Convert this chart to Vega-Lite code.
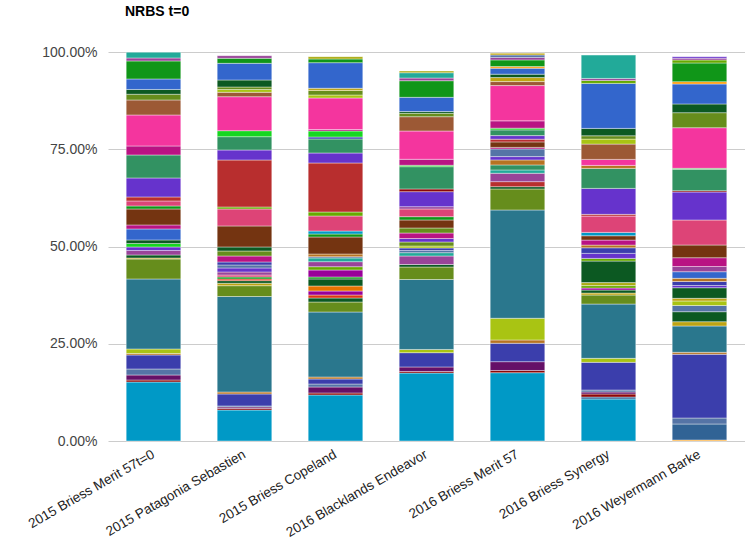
{
  "$schema": "https://vega.github.io/schema/vega-lite/v6.json",
  "width": 637,
  "height": 389,
  "autosize": {"type": "none"},
  "padding": {"left": 108, "top": 52, "right": 0, "bottom": 116},
  "background": "white",
  "title": {"text": "NRBS t=0", "anchor": "start", "frame": "group", "dx": 17, "offset": 26, "font": "Liberation Sans", "fontSize": 14, "fontWeight": "bold", "color": "#000000"},
  "config": {"view": {"stroke": null}},
  "data": {"values": [
    {"sample":"2015 Briess Merit 57t=0","series":5,"share":15.17},{"sample":"2015 Briess Merit 57t=0","series":15,"share":0.51},{"sample":"2015 Briess Merit 57t=0","series":16,"share":1.29},{"sample":"2015 Briess Merit 57t=0","series":18,"share":1.54},{"sample":"2015 Briess Merit 57t=0","series":19,"share":3.60},{"sample":"2015 Briess Merit 57t=0","series":20,"share":0.39},{"sample":"2015 Briess Merit 57t=0","series":25,"share":1.16},{"sample":"2015 Briess Merit 57t=0","series":26,"share":17.99},{"sample":"2015 Briess Merit 57t=0","series":27,"share":5.14},{"sample":"2015 Briess Merit 57t=0","series":28,"share":0.26},{"sample":"2015 Briess Merit 57t=0","series":29,"share":0.77},{"sample":"2015 Briess Merit 57t=0","series":41,"share":1.16},{"sample":"2015 Briess Merit 57t=0","series":44,"share":0.90},{"sample":"2015 Briess Merit 57t=0","series":52,"share":0.90},{"sample":"2015 Briess Merit 57t=0","series":60,"share":0.90},{"sample":"2015 Briess Merit 57t=0","series":62,"share":2.83},{"sample":"2015 Briess Merit 57t=0","series":84,"share":1.03},{"sample":"2015 Briess Merit 57t=0","series":92,"share":4.11},{"sample":"2015 Briess Merit 57t=0","series":96,"share":0.77},{"sample":"2015 Briess Merit 57t=0","series":99,"share":1.29},{"sample":"2015 Briess Merit 57t=0","series":101,"share":1.03},{"sample":"2015 Briess Merit 57t=0","series":106,"share":4.88},{"sample":"2015 Briess Merit 57t=0","series":110,"share":5.91},{"sample":"2015 Briess Merit 57t=0","series":115,"share":2.31},{"sample":"2015 Briess Merit 57t=0","series":116,"share":7.97},{"sample":"2015 Briess Merit 57t=0","series":117,"share":3.86},{"sample":"2015 Briess Merit 57t=0","series":120,"share":1.47},{"sample":"2015 Briess Merit 57t=0","series":122,"share":1.23},{"sample":"2015 Briess Merit 57t=0","series":124,"share":2.70},{"sample":"2015 Briess Merit 57t=0","series":127,"share":4.63},{"sample":"2015 Briess Merit 57t=0","series":134,"share":0.77},{"sample":"2015 Briess Merit 57t=0","series":135,"share":1.47},

    {"sample":"2015 Patagonia Sebastien","series":5,"share":7.97},{"sample":"2015 Patagonia Sebastien","series":15,"share":0.39},{"sample":"2015 Patagonia Sebastien","series":16,"share":0.39},{"sample":"2015 Patagonia Sebastien","series":18,"share":0.26},{"sample":"2015 Patagonia Sebastien","series":19,"share":3.08},{"sample":"2015 Patagonia Sebastien","series":20,"share":0.51},{"sample":"2015 Patagonia Sebastien","series":26,"share":24.55},{"sample":"2015 Patagonia Sebastien","series":27,"share":2.78},{"sample":"2015 Patagonia Sebastien","series":28,"share":0.62},{"sample":"2015 Patagonia Sebastien","series":29,"share":0.67},{"sample":"2015 Patagonia Sebastien","series":32,"share":0.44},{"sample":"2015 Patagonia Sebastien","series":34,"share":0.51},{"sample":"2015 Patagonia Sebastien","series":37,"share":0.51},{"sample":"2015 Patagonia Sebastien","series":41,"share":0.77},{"sample":"2015 Patagonia Sebastien","series":44,"share":1.03},{"sample":"2015 Patagonia Sebastien","series":49,"share":0.77},{"sample":"2015 Patagonia Sebastien","series":50,"share":0.77},{"sample":"2015 Patagonia Sebastien","series":53,"share":1.54},{"sample":"2015 Patagonia Sebastien","series":58,"share":1.29},{"sample":"2015 Patagonia Sebastien","series":60,"share":1.03},{"sample":"2015 Patagonia Sebastien","series":92,"share":5.40},{"sample":"2015 Patagonia Sebastien","series":99,"share":4.37},{"sample":"2015 Patagonia Sebastien","series":100,"share":0.51},{"sample":"2015 Patagonia Sebastien","series":101,"share":12.08},{"sample":"2015 Patagonia Sebastien","series":106,"share":2.57},{"sample":"2015 Patagonia Sebastien","series":110,"share":3.42},{"sample":"2015 Patagonia Sebastien","series":114,"share":1.54},{"sample":"2015 Patagonia Sebastien","series":116,"share":8.74},{"sample":"2015 Patagonia Sebastien","series":117,"share":1.13},{"sample":"2015 Patagonia Sebastien","series":118,"share":0.72},{"sample":"2015 Patagonia Sebastien","series":120,"share":0.64},{"sample":"2015 Patagonia Sebastien","series":122,"share":1.80},{"sample":"2015 Patagonia Sebastien","series":124,"share":4.29},{"sample":"2015 Patagonia Sebastien","series":127,"share":1.29},{"sample":"2015 Patagonia Sebastien","series":134,"share":0.67},

    {"sample":"2015 Briess Copeland","series":5,"share":11.83},{"sample":"2015 Briess Copeland","series":15,"share":0.51},{"sample":"2015 Briess Copeland","series":16,"share":1.54},{"sample":"2015 Briess Copeland","series":18,"share":0.77},{"sample":"2015 Briess Copeland","series":19,"share":1.29},{"sample":"2015 Briess Copeland","series":20,"share":0.51},{"sample":"2015 Briess Copeland","series":26,"share":16.71},{"sample":"2015 Briess Copeland","series":27,"share":2.57},{"sample":"2015 Briess Copeland","series":29,"share":1.03},{"sample":"2015 Briess Copeland","series":32,"share":0.77},{"sample":"2015 Briess Copeland","series":35,"share":1.03},{"sample":"2015 Briess Copeland","series":45,"share":1.29},{"sample":"2015 Briess Copeland","series":60,"share":1.80},{"sample":"2015 Briess Copeland","series":65,"share":0.51},{"sample":"2015 Briess Copeland","series":66,"share":1.80},{"sample":"2015 Briess Copeland","series":69,"share":0.85},{"sample":"2015 Briess Copeland","series":72,"share":1.29},{"sample":"2015 Briess Copeland","series":73,"share":0.95},{"sample":"2015 Briess Copeland","series":80,"share":0.33},{"sample":"2015 Briess Copeland","series":82,"share":0.69},{"sample":"2015 Briess Copeland","series":92,"share":4.37},{"sample":"2015 Briess Copeland","series":96,"share":0.77},{"sample":"2015 Briess Copeland","series":98,"share":0.77},{"sample":"2015 Briess Copeland","series":99,"share":3.86},{"sample":"2015 Briess Copeland","series":100,"share":1.03},{"sample":"2015 Briess Copeland","series":101,"share":12.60},{"sample":"2015 Briess Copeland","series":106,"share":2.57},{"sample":"2015 Briess Copeland","series":110,"share":3.60},{"sample":"2015 Briess Copeland","series":112,"share":0.51},{"sample":"2015 Briess Copeland","series":114,"share":1.54},{"sample":"2015 Briess Copeland","series":115,"share":0.39},{"sample":"2015 Briess Copeland","series":116,"share":8.10},{"sample":"2015 Briess Copeland","series":118,"share":0.77},{"sample":"2015 Briess Copeland","series":120,"share":1.16},{"sample":"2015 Briess Copeland","series":121,"share":0.57},{"sample":"2015 Briess Copeland","series":124,"share":6.58},{"sample":"2015 Briess Copeland","series":127,"share":0.95},{"sample":"2015 Briess Copeland","series":136,"share":0.59},

    {"sample":"2016 Blacklands Endeavor","series":5,"share":17.48},{"sample":"2016 Blacklands Endeavor","series":15,"share":0.39},{"sample":"2016 Blacklands Endeavor","series":16,"share":1.16},{"sample":"2016 Blacklands Endeavor","series":19,"share":3.68},{"sample":"2016 Blacklands Endeavor","series":25,"share":0.82},{"sample":"2016 Blacklands Endeavor","series":26,"share":17.99},{"sample":"2016 Blacklands Endeavor","series":27,"share":3.21},{"sample":"2016 Blacklands Endeavor","series":29,"share":0.64},{"sample":"2016 Blacklands Endeavor","series":41,"share":2.19},{"sample":"2016 Blacklands Endeavor","series":42,"share":0.85},{"sample":"2016 Blacklands Endeavor","series":49,"share":0.57},{"sample":"2016 Blacklands Endeavor","series":50,"share":0.64},{"sample":"2016 Blacklands Endeavor","series":56,"share":0.51},{"sample":"2016 Blacklands Endeavor","series":58,"share":1.03},{"sample":"2016 Blacklands Endeavor","series":75,"share":0.90},{"sample":"2016 Blacklands Endeavor","series":84,"share":1.41},{"sample":"2016 Blacklands Endeavor","series":89,"share":1.29},{"sample":"2016 Blacklands Endeavor","series":92,"share":2.06},{"sample":"2016 Blacklands Endeavor","series":96,"share":0.85},{"sample":"2016 Blacklands Endeavor","series":99,"share":1.98},{"sample":"2016 Blacklands Endeavor","series":103,"share":0.59},{"sample":"2016 Blacklands Endeavor","series":106,"share":3.86},{"sample":"2016 Blacklands Endeavor","series":108,"share":0.69},{"sample":"2016 Blacklands Endeavor","series":110,"share":5.73},{"sample":"2016 Blacklands Endeavor","series":114,"share":0.36},{"sample":"2016 Blacklands Endeavor","series":115,"share":1.54},{"sample":"2016 Blacklands Endeavor","series":116,"share":7.27},{"sample":"2016 Blacklands Endeavor","series":117,"share":3.68},{"sample":"2016 Blacklands Endeavor","series":120,"share":0.87},{"sample":"2016 Blacklands Endeavor","series":122,"share":0.46},{"sample":"2016 Blacklands Endeavor","series":124,"share":3.65},{"sample":"2016 Blacklands Endeavor","series":127,"share":4.27},{"sample":"2016 Blacklands Endeavor","series":134,"share":0.69},{"sample":"2016 Blacklands Endeavor","series":135,"share":1.36},{"sample":"2016 Blacklands Endeavor","series":136,"share":0.44},

    {"sample":"2016 Briess Merit 57","series":5,"share":17.56},{"sample":"2016 Briess Merit 57","series":15,"share":0.57},{"sample":"2016 Briess Merit 57","series":16,"share":2.26},{"sample":"2016 Briess Merit 57","series":19,"share":4.73},{"sample":"2016 Briess Merit 57","series":20,"share":0.85},{"sample":"2016 Briess Merit 57","series":25,"share":5.58},{"sample":"2016 Briess Merit 57","series":26,"share":27.84},{"sample":"2016 Briess Merit 57","series":27,"share":5.40},{"sample":"2016 Briess Merit 57","series":29,"share":0.59},{"sample":"2016 Briess Merit 57","series":39,"share":1.29},{"sample":"2016 Briess Merit 57","series":41,"share":2.16},{"sample":"2016 Briess Merit 57","series":42,"share":0.85},{"sample":"2016 Briess Merit 57","series":48,"share":1.29},{"sample":"2016 Briess Merit 57","series":51,"share":1.29},{"sample":"2016 Briess Merit 57","series":75,"share":0.85},{"sample":"2016 Briess Merit 57","series":80,"share":1.98},{"sample":"2016 Briess Merit 57","series":84,"share":0.39},{"sample":"2016 Briess Merit 57","series":92,"share":1.41},{"sample":"2016 Briess Merit 57","series":101,"share":0.69},{"sample":"2016 Briess Merit 57","series":106,"share":0.93},{"sample":"2016 Briess Merit 57","series":110,"share":1.47},{"sample":"2016 Briess Merit 57","series":114,"share":0.44},{"sample":"2016 Briess Merit 57","series":115,"share":1.88},{"sample":"2016 Briess Merit 57","series":116,"share":9.07},{"sample":"2016 Briess Merit 57","series":117,"share":1.03},{"sample":"2016 Briess Merit 57","series":121,"share":1.03},{"sample":"2016 Briess Merit 57","series":122,"share":0.87},{"sample":"2016 Briess Merit 57","series":124,"share":1.54},{"sample":"2016 Briess Merit 57","series":126,"share":0.41},{"sample":"2016 Briess Merit 57","series":127,"share":1.72},{"sample":"2016 Briess Merit 57","series":134,"share":0.64},{"sample":"2016 Briess Merit 57","series":142,"share":0.64},{"sample":"2016 Briess Merit 57","series":152,"share":0.44},

    {"sample":"2016 Briess Synergy","series":5,"share":10.80},{"sample":"2016 Briess Synergy","series":9,"share":0.51},{"sample":"2016 Briess Synergy","series":15,"share":0.77},{"sample":"2016 Briess Synergy","series":16,"share":0.51},{"sample":"2016 Briess Synergy","series":18,"share":0.51},{"sample":"2016 Briess Synergy","series":19,"share":7.12},{"sample":"2016 Briess Synergy","series":25,"share":1.03},{"sample":"2016 Briess Synergy","series":26,"share":13.96},{"sample":"2016 Briess Synergy","series":27,"share":2.31},{"sample":"2016 Briess Synergy","series":28,"share":0.51},{"sample":"2016 Briess Synergy","series":29,"share":0.77},{"sample":"2016 Briess Synergy","series":35,"share":0.51},{"sample":"2016 Briess Synergy","series":38,"share":0.64},{"sample":"2016 Briess Synergy","series":43,"share":0.77},{"sample":"2016 Briess Synergy","series":60,"share":5.53},{"sample":"2016 Briess Synergy","series":69,"share":0.69},{"sample":"2016 Briess Synergy","series":75,"share":1.29},{"sample":"2016 Briess Synergy","series":81,"share":1.44},{"sample":"2016 Briess Synergy","series":82,"share":0.69},{"sample":"2016 Briess Synergy","series":84,"share":1.29},{"sample":"2016 Briess Synergy","series":92,"share":1.11},{"sample":"2016 Briess Synergy","series":98,"share":0.87},{"sample":"2016 Briess Synergy","series":99,"share":4.19},{"sample":"2016 Briess Synergy","series":101,"share":0.44},{"sample":"2016 Briess Synergy","series":106,"share":6.68},{"sample":"2016 Briess Synergy","series":110,"share":5.14},{"sample":"2016 Briess Synergy","series":113,"share":0.77},{"sample":"2016 Briess Synergy","series":116,"share":1.54},{"sample":"2016 Briess Synergy","series":117,"share":3.93},{"sample":"2016 Briess Synergy","series":118,"share":1.29},{"sample":"2016 Briess Synergy","series":120,"share":0.85},{"sample":"2016 Briess Synergy","series":122,"share":1.90},{"sample":"2016 Briess Synergy","series":124,"share":11.57},{"sample":"2016 Briess Synergy","series":131,"share":0.77},{"sample":"2016 Briess Synergy","series":134,"share":0.51},{"sample":"2016 Briess Synergy","series":135,"share":5.99},

    {"sample":"2016 Weyermann Barke","series":2,"share":0.26},{"sample":"2016 Weyermann Barke","series":9,"share":4.11},{"sample":"2016 Weyermann Barke","series":18,"share":1.54},{"sample":"2016 Weyermann Barke","series":19,"share":16.38},{"sample":"2016 Weyermann Barke","series":20,"share":0.51},{"sample":"2016 Weyermann Barke","series":26,"share":6.76},{"sample":"2016 Weyermann Barke","series":28,"share":1.11},{"sample":"2016 Weyermann Barke","series":29,"share":2.57},{"sample":"2016 Weyermann Barke","series":49,"share":1.59},{"sample":"2016 Weyermann Barke","series":56,"share":1.16},{"sample":"2016 Weyermann Barke","series":59,"share":0.69},{"sample":"2016 Weyermann Barke","series":60,"share":2.72},{"sample":"2016 Weyermann Barke","series":75,"share":0.57},{"sample":"2016 Weyermann Barke","series":81,"share":1.03},{"sample":"2016 Weyermann Barke","series":82,"share":0.82},{"sample":"2016 Weyermann Barke","series":93,"share":1.70},{"sample":"2016 Weyermann Barke","series":103,"share":1.34},{"sample":"2016 Weyermann Barke","series":115,"share":2.26},{"sample":"2016 Weyermann Barke","series":123,"share":3.26},{"sample":"2016 Weyermann Barke","series":130,"share":6.43},{"sample":"2016 Weyermann Barke","series":137,"share":7.20},{"sample":"2016 Weyermann Barke","series":139,"share":0.33},{"sample":"2016 Weyermann Barke","series":141,"share":5.50},{"sample":"2016 Weyermann Barke","series":145,"share":0.26},{"sample":"2016 Weyermann Barke","series":147,"share":10.44},{"sample":"2016 Weyermann Barke","series":151,"share":3.86},{"sample":"2016 Weyermann Barke","series":153,"share":2.24},{"sample":"2016 Weyermann Barke","series":155,"share":5.14},{"sample":"2016 Weyermann Barke","series":157,"share":0.59},{"sample":"2016 Weyermann Barke","series":158,"share":4.81},{"sample":"2016 Weyermann Barke","series":162,"share":0.77},{"sample":"2016 Weyermann Barke","series":165,"share":0.44},{"sample":"2016 Weyermann Barke","series":168,"share":0.41}
  ]},
  "mark": {"type": "bar", "stroke": "white", "strokeWidth": 0.4},
  "encoding": {
    "x": {
      "field": "sample", "type": "nominal", "sort": null,
      "scale": {"paddingInner": 0.4, "paddingOuter": 0.2},
      "axis": {"title": null, "labelAngle": -30, "labelAlign": "right", "labelBaseline": "middle", "labelFont": "Liberation Sans", "labelFontSize": 13.5, "labelColor": "#222222", "ticks": false, "domain": false, "labelPadding": 12, "labelLimit": 300}
    },
    "y": {
      "field": "share", "type": "quantitative", "stack": "zero",
      "scale": {"domain": [0, 100], "nice": false},
      "axis": {"title": null, "values": [0, 25, 50, 75, 100], "labelExpr": "format(datum.value, '.2f') + '%'", "labelFont": "Liberation Sans", "labelFontSize": 14, "labelColor": "#444444", "gridColor": "#cccccc", "domain": false, "ticks": false, "labelPadding": 11}
    },
    "color": {
      "field": "series", "type": "nominal", "legend": null,
      "scale": {
        "domain": [0,1,2,3,4,5,6,7,8,9,10,11,12,13,14,15,16,17,18,19,20,21,22,23,24,25,26,27,28,29,30,31,32,33,34,35,36,37,38,39,40,41,42,43,44,45,46,47,48,49,50,51,52,53,54,55,56,57,58,59,60,61,62,63,64,65,66,67,68,69,70,71,72,73,74,75,76,77,78,79,80,81,82,83,84,85,86,87,88,89,90,91,92,93,94,95,96,97,98,99,100,101,102,103,104,105,106,107,108,109,110,111,112,113,114,115,116,117,118,119,120,121,122,123,124,125,126,127,128,129,130,131,132,133,134,135,136,137,138,139,140,141,142,143,144,145,146,147,148,149,150,151,152,153,154,155,156,157,158,159,160,161,162,163,164,165,166,167,168],
        "range": ["#3366cc","#dc3912","#ff9900","#109618","#990099","#0099c6","#dd4477","#66aa00","#b82e2e","#316395","#994499","#22aa99","#aaaa11","#6633cc","#e67300","#8b0707","#651067","#329262","#5574a6","#3b3eac","#b77322","#16d620","#b91383","#f4359e","#9c5935","#a9c413","#2a778d","#668d1c","#bea413","#0c5922","#743411"]
      }
    },
    "order": {"field": "series", "type": "quantitative", "sort": "ascending"}
  }
}
